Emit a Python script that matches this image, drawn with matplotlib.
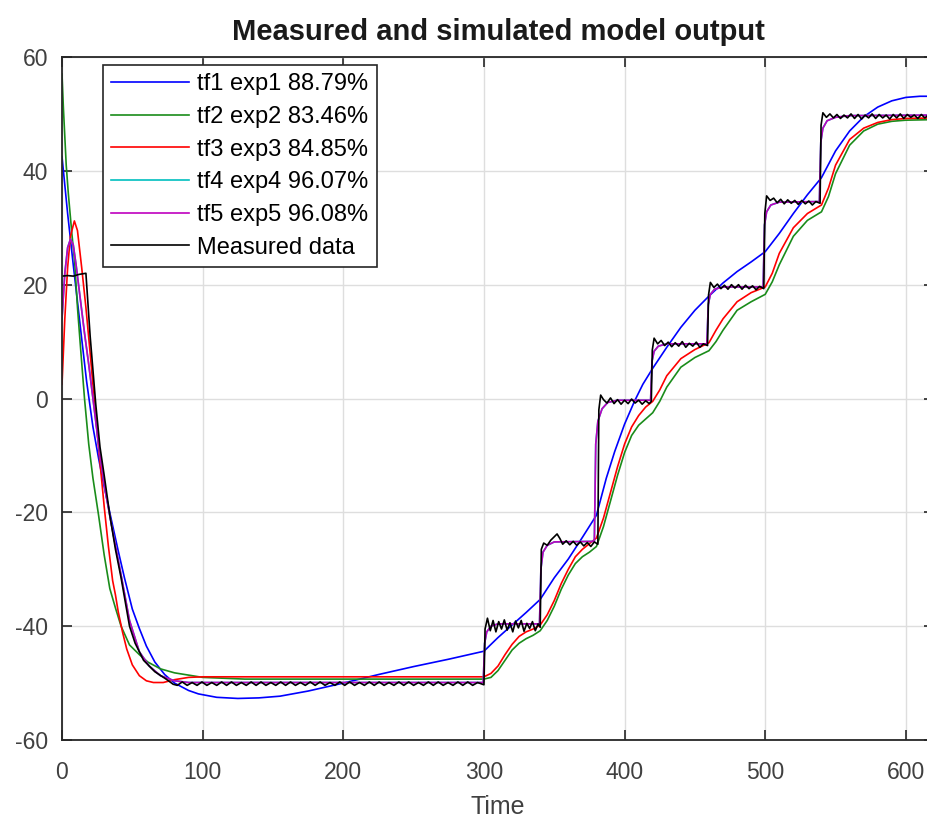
import matplotlib.pyplot as plt

# measured data (black)
meas_t = [0, 4, 8, 12, 17, 20, 24, 27, 30, 34, 38, 42, 48, 52, 58, 66, 74, 79,
          82, 85.5, 89, 92.5, 96, 99.5, 103, 106.5, 110, 113.5, 117, 120.5, 124, 127.5,
          131, 134.5, 138, 141.5, 145, 148.5, 152, 155.5, 159, 162.5, 166, 169.5, 173,
          176.5, 180, 183.5, 187, 190.5, 194, 197.5, 201, 204.5, 208, 211.5, 215, 218.5,
          222, 225.5, 229, 232.5, 236, 239.5, 243, 246.5, 250, 253.5, 257, 260.5, 264,
          267.5, 271, 274.5, 278, 281.5, 285, 288.5, 292, 295.5, 300,
          300.8, 302.5, 304.5, 306.5, 308.5, 310.5, 312.5, 314.5, 316.5, 318.5, 320.5,
          322.5, 324.5, 326.5, 328.5, 330.5, 332.5, 334.5, 336.5, 338.5, 340,
          340.8, 342.5, 345, 347.5, 350, 352, 354, 356, 358.5, 361, 363.5, 366, 368.5,
          371, 373.5, 376, 378.5, 381,
          381.7, 383, 385, 387.5, 390, 392.5, 395, 397.5, 400, 402.5, 405, 407.5, 410,
          412.5, 415, 417.5, 419,
          419.7, 421, 423.5, 426, 428.5, 431, 433.5, 436, 438.5, 441, 443.5, 446, 448.5,
          451, 453.5, 456, 459,
          459.7, 461, 463.5, 466, 468.5, 471, 473.5, 476, 478.5, 481, 483.5, 486, 488.5,
          491, 493.5, 496, 499,
          499.7, 501, 503.5, 506, 508.5, 511, 513.5, 516, 518.5, 521, 523.5, 526, 528.5,
          531, 533.5, 536, 539,
          539.7, 541, 543.5, 546, 548.5, 551, 553.5, 556, 558.5, 561, 563.5, 566, 568.5,
          571, 573.5, 576, 578.5, 581, 583.5, 586, 588.5, 591, 593.5, 596, 598.5, 601,
          603.5, 606, 608.5, 611, 613.5, 616, 620]
meas_y = [21.5, 21.6, 21.5, 21.8, 22.0, 11, -1, -8.5, -13.5, -20.5, -26.5, -31.5, -40, -43,
          -46, -48, -49.3, -50.2,
          -50.4, -49.8, -50.4, -49.9, -50.4, -49.8, -50.4, -49.9, -50.4, -49.8, -50.4,
          -49.8, -50.4, -49.9, -50.4, -49.8, -50.4, -49.8, -50.4, -49.9, -50.4, -49.8,
          -50.4, -49.8, -50.4, -49.9, -50.4, -49.8, -50.4, -49.8, -50.4, -49.9, -50.4,
          -49.8, -50.4, -49.8, -50.4, -49.9, -50.4, -49.8, -50.4, -49.8, -50.4, -49.9,
          -50.4, -49.8, -50.4, -49.8, -50.4, -49.9, -50.4, -49.8, -50.4, -49.8, -50.4,
          -49.9, -50.4, -49.8, -50.4, -49.8, -50.4, -49.9, -50.3,
          -40.5, -38.6, -40.8, -39.0, -41.0, -39.2, -40.5, -38.9, -40.7, -39.4, -41.0,
          -39.1, -40.3, -39.0, -40.9, -39.5, -40.4, -39.2, -40.8, -39.6, -40.2,
          -26.5, -25.4, -25.8, -24.9, -24.3, -23.8, -24.6, -25.6, -25.0, -25.7, -25.1,
          -25.8, -25.2, -25.9, -25.3, -26.0, -25.2, -25.6,
          -2.0, 0.6, -0.2, -0.8, 0.1, -0.9, -0.2, -1.0, -0.3, -0.9, -0.1, -0.8, -0.3,
          -1.0, -0.4, -0.9, -0.5,
          8.5, 10.6, 9.6, 10.2, 9.3, 9.9, 9.1, 9.8, 9.2, 10.0, 9.0, 9.7, 9.2, 9.9, 9.0,
          9.6, 9.3,
          18.2, 20.4, 19.5, 20.1, 19.3, 19.9, 19.2, 20.0, 19.4, 20.0, 19.2, 19.9, 19.3,
          19.8, 19.1, 19.7, 19.3,
          32.5, 35.6, 34.8, 35.2, 34.4, 35.0, 34.2, 34.9, 34.3, 34.8, 34.1, 34.8, 34.2,
          34.7, 34.0, 34.6, 34.3,
          48.0, 50.2, 49.4, 50.0, 49.3, 49.9, 49.2, 49.8, 49.3, 50.0, 49.2, 49.9, 49.1,
          49.8, 49.3, 50.0, 49.2, 49.9, 49.3, 49.8, 49.1, 49.9, 49.3, 50.0, 49.2, 49.9,
          49.4, 49.8, 49.2, 49.9, 49.3, 49.8, 49.5]

# tf1 (blue)
tf1_t = [0, 2, 4, 6, 8, 11, 14, 17.5, 22, 26, 30, 35, 40, 44.4, 50, 55, 60, 66, 73, 80,
         90, 97, 110, 125, 140, 155, 175, 200, 225, 250, 275, 300, 310, 320, 330, 340,
         350, 360, 370, 380, 387, 393, 400, 407, 413, 420, 430, 440, 450, 460, 470, 480,
         490, 500, 510, 520, 530, 540, 550, 560, 570, 580, 590, 600, 610, 620]
tf1_y = [42.5, 37.5, 32.5, 28, 23.5, 17, 10.5, 3, -5, -10.5, -15.5, -21.2, -26.8, -31.5,
         -37, -40.4, -43.5, -46.3, -48.5, -50, -51.3, -51.9, -52.5, -52.7, -52.6, -52.3,
         -51.4, -50, -48.5, -47.1, -45.8, -44.4, -42, -39.8, -37.6, -35.3, -31.5, -28.2,
         -24.4, -20.5, -14, -9.3, -4.5, -0.5, 2.5, 5.3, 9, 12.5, 15.5, 18, 20.3, 22.3,
         24, 25.8, 29, 32.5, 35.8, 38.8, 43.5, 47, 49.5, 51.2, 52.3, 52.9, 53.1, 53.1]

# tf2 (green)
tf2_t = [0, 1, 2, 3, 4.5, 7, 9, 11, 13, 16, 19, 22, 26, 30, 34, 38, 42, 48, 55, 61, 70,
         80, 100, 130, 300, 305, 310, 315, 320, 325, 330, 335, 340, 345, 350, 355, 360,
         365, 370, 375, 380, 385, 390, 395, 400, 405, 410, 415, 420, 425, 430, 440, 450,
         460, 465, 470, 480, 490, 500, 505, 510, 520, 530, 540, 545, 550, 560, 570, 580,
         590, 600, 620]
tf2_y = [57, 51, 46, 41, 36, 29, 24, 16, 9.5, 0, -8, -14, -20.5, -27.5, -33.4, -36.8,
         -40, -43.3, -45, -46.3, -47.5, -48.2, -49, -49.3, -49.3, -49, -47.8, -46, -44.2,
         -43, -42.2, -41.6, -40.8, -39, -36.5, -33.5, -31, -29, -27.8, -27, -26, -22.5,
         -18, -13.5, -9.5, -6.5, -4.7, -3.6, -2.5, -0.5, 2, 5.5, 7.2, 8.4, 10, 12, 15.5,
         17, 18.3, 20.5, 23.5, 28.5, 31.3, 32.8, 35.5, 39.5, 44.5, 47, 48.2, 48.7, 48.9, 49]

# tf3 (red)
tf3_t = [0, 2, 4, 6, 8.8, 11, 14, 17, 20, 25, 30, 33, 36, 38, 40, 43, 46, 50, 55, 60,
         65, 72, 80, 90, 100, 300, 305, 310, 315, 320, 325, 330, 335, 340, 345, 350, 355,
         360, 365, 370, 375, 380, 385, 390, 395, 400, 405, 410, 415, 420, 425, 430, 440,
         450, 460, 465, 470, 480, 490, 500, 505, 510, 520, 530, 540, 545, 550, 560, 570,
         580, 590, 600, 620]
tf3_y = [2.5, 14, 23, 28.5, 31.2, 29.5, 23, 16, 8, -6, -19, -26, -32, -34.5, -37.5, -41,
         -44, -46.8, -48.7, -49.6, -49.9, -49.9, -49.4, -49, -48.9, -48.9, -48.3, -47,
         -45, -43.2, -41.8, -41, -40.5, -39.8, -38, -35.5, -32.5, -30, -27.8, -26.5,
         -25.5, -24.5, -21, -16.5, -12, -8, -5, -3, -1.5, -0.5, 1.5, 4, 7, 8.6, 9.8, 12,
         14, 17, 18.6, 19.6, 22, 25.5, 30, 32.5, 34, 37, 41, 45.5, 47.5, 48.5, 49, 49.2,
         49.3]

# tf5 (magenta); tf4 (cyan) lies underneath it
tf5_t = [0, 2, 4, 6, 8, 10, 13, 16, 19, 23, 27, 31, 35, 42, 48, 55, 62, 70, 80, 90, 299.5,
         300.5, 302, 305, 310, 339.5, 340.5, 342, 345, 350, 378.5, 379.5, 381, 384, 388,
         395, 418.5, 419.5, 421, 424, 430, 458.5, 459.5, 461, 464, 470, 498.5, 499.5, 501,
         504, 510, 538.5, 539.5, 541, 544, 550, 560, 620]
tf5_y = [14, 22, 26.5, 28, 27, 23.5, 17.5, 11.5, 6, -2, -10, -16.5, -22, -31, -39, -44.5,
         -47, -48.7, -49.6, -49.9, -49.9, -43, -41, -40, -39.6, -39.6, -30, -27, -25.8,
         -25.2, -25.1, -8, -4, -1.8, -0.7, -0.3, -0.3, 6.5, 8.3, 9.2, 9.6, 9.6, 16.5, 18.3,
         19.2, 19.6, 19.6, 30.5, 32.8, 34, 34.5, 34.6, 45, 47.5, 48.8, 49.4, 49.7, 49.8]
tf4_t = tf5_t
tf4_y = tf5_y

labels = ['tf1 exp1 88.79%', 'tf2 exp2 83.46%', 'tf3 exp3 84.85%',
          'tf4 exp4 96.07%', 'tf5 exp5 96.08%', 'Measured data']

plt.rcParams['font.family'] = ['Liberation Sans', 'DejaVu Sans']
plt.rcParams['axes.unicode_minus'] = False

fig = plt.figure(figsize=(9.28, 8.19), dpi=100)
ax = fig.add_axes([62/928, 79/819, 872/928, 683/819])

lw = 1.2
ax.plot(tf1_t, tf1_y, color='#0000ff', lw=lw, label=labels[0])
ax.plot(tf2_t, tf2_y, color='#1a8c1a', lw=lw, label=labels[1])
ax.plot(tf3_t, tf3_y, color='#ff0000', lw=lw, label=labels[2])
ax.plot(tf4_t, tf4_y, color='#00bfbf', lw=lw, label=labels[3])
ax.plot(tf5_t, tf5_y, color='#bf00bf', lw=lw, label=labels[4])
ax.plot(meas_t, meas_y, color='#000000', lw=lw, label=labels[5])

ax.set_xlim(0, 620)
ax.set_ylim(-60, 60)
ax.set_xticks(range(0, 601, 100))
ax.set_yticks(range(-60, 61, 20))
ax.grid(True, color='#dedede', lw=1.0)
ax.set_axisbelow(True)
ax.tick_params(direction='in', top=True, right=True, length=7, width=1.2,
               labelsize=16.5, labelcolor='#404040', color='#262626')
ax.tick_params(axis='x', pad=15)
ax.tick_params(axis='y', pad=10)
for s in ax.spines.values():
    s.set_color('#262626')
    s.set_linewidth(1.3)

ax.set_xlabel('Time', fontsize=18, color='#404040', labelpad=8)
ax.set_title('Measured and simulated model output', fontsize=21, fontweight='bold',
             color='#1a1a1a', pad=12)

leg = ax.legend(loc='upper left', bbox_to_anchor=(0.047, 0.988), fontsize=17,
                frameon=True, fancybox=False, edgecolor='#262626', framealpha=1,
                handlelength=3.3, handletextpad=0.35, labelspacing=0.45,
                borderpad=0.35, borderaxespad=0)
leg.get_frame().set_linewidth(1.2)

fig.savefig('out.png', dpi=100)
